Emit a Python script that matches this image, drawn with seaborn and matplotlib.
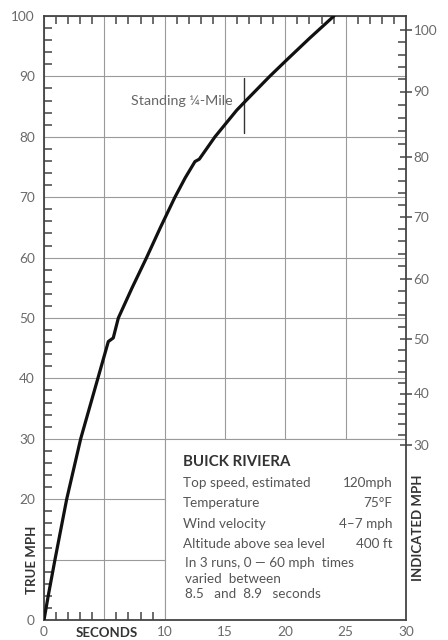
import numpy as np
import pandas as pd
import matplotlib
matplotlib.use("Agg")
import matplotlib.pyplot as plt
import seaborn as sns
from matplotlib.patches import Rectangle
from matplotlib.ticker import MultipleLocator, FixedLocator
import matplotlib.transforms as mtransforms

# ---- data ----
seconds = [0.0, 0.35, 0.91, 1.88, 3.04, 4.42, 5.33, 5.74, 6.16, 7.3, 8.5, 9.65, 10.85, 11.7, 12.51,
           12.87, 14.17, 15.97, 16.79, 18.7, 20.1, 22.0, 24.03]
true_mph = [0, 4, 10, 20, 30, 39.7, 46.1, 46.7, 50, 55, 60, 65, 70, 73.2, 75.9,
            76.3, 80, 84.4, 86.1, 90, 92.7, 96.3, 100]

indicated_labels = [30, 40, 50, 60, 70, 80, 90, 100]
indicated_at_true = [29.0, 37.5, 46.6, 56.5, 66.8, 76.7, 87.5, 97.7]

x_ticks = [0, 5, 10, 15, 20, 25, 30]
x_tick_labels = ["0", "", "10", "15", "20", "25", "30"]
y_ticks = [0, 10, 20, 30, 40, 50, 60, 70, 80, 90, 100]
y_tick_labels = ["0", "", "20", "30", "40", "50", "60", "70", "80", "90", "100"]

quarter_mile_time = 16.57
quarter_mile_span = [80.6, 89.7]

box_title = "BUICK RIVIERA"
box_items = ["Top speed, estimated", "Temperature", "Wind velocity", "Altitude above sea level"]
box_values = ["120mph", "75\u00b0F", "4\u20137 mph", "400 ft"]
box_note = ["In 3 runs, 0 \u2014 60 mph  times", "varied  between", "8.5   and  8.9   seconds"]

df = pd.DataFrame({"seconds": seconds, "true_mph": true_mph})

grid_c = "#9a9a9a"
spine_c = "#444444"
label_c = "#6a6a6a"

sns.set_theme(style="ticks")
plt.rcParams["font.family"] = ["Lato", "DejaVu Sans"]

W, H = 448, 640
fig = plt.figure(figsize=(W / 100, H / 100), dpi=100)
L, R, T, B = 44, 406, 16, 620
ax = fig.add_axes([L / W, 1 - B / H, (R - L) / W, (B - T) / H])

sns.lineplot(data=df, x="seconds", y="true_mph", ax=ax, color="#111111", lw=2.3,
             sort=False, zorder=4)

ax.set_xlim(0, 30)
ax.set_ylim(0, 100)
ax.set_xlabel("")
ax.set_ylabel("")

ax.set_xticks(x_ticks)
ax.set_xticklabels(x_tick_labels)
ax.set_yticks(y_ticks)
ax.set_yticklabels(y_tick_labels)
ax.xaxis.set_minor_locator(MultipleLocator(1))
ax.yaxis.set_minor_locator(MultipleLocator(2))
ax.grid(True, which="major", color=grid_c, lw=0.8)

for s in ["left", "top", "bottom"]:
    ax.spines[s].set_color(spine_c)
    ax.spines[s].set_linewidth(1.3)
ax.spines["right"].set_visible(False)

# white info box covering the lower right grid
ax.add_patch(Rectangle((10, 0), 20, 30, facecolor="white", edgecolor=grid_c,
                       lw=0.8, zorder=1.2))

# standing quarter mile marker
ax.plot([quarter_mile_time, quarter_mile_time], quarter_mile_span, color="#333333", lw=1.0, zorder=3)
ax.text(15.65, 85.9, "Standing \u00bc-Mile", ha="right", va="center", fontsize=10.3,
        color="#666666", zorder=5)

# right axis: indicated mph
ax2 = ax.twinx()
ax2.set_ylim(0, 100)
ax2.yaxis.set_major_locator(FixedLocator(indicated_at_true))
ax2.set_yticklabels([str(v) for v in indicated_labels])
minor_ind = np.arange(30, 101, 2)
ax2.yaxis.set_minor_locator(FixedLocator(np.interp(minor_ind, indicated_labels, indicated_at_true)))
for s in ["left", "top", "bottom"]:
    ax2.spines[s].set_visible(False)
ax2.spines["right"].set_visible(True)
ax2.spines["right"].set_color(spine_c)
ax2.spines["right"].set_linewidth(1.3)
ax2.grid(False)

# tick styling (after twinx so nothing resets it)
ax.tick_params(which="major", direction="in", length=0, labelsize=9.8,
               labelcolor=label_c, top=False, right=False, left=True, bottom=True)
ax.tick_params(axis="x", which="major", pad=4)
ax.tick_params(axis="y", which="major", pad=6.5)
ax.tick_params(which="minor", direction="in", length=5.5, width=1.1, color=spine_c,
               top=True, bottom=True, left=True, right=False)
ax2.tick_params(which="major", direction="inout", length=9, width=1.1, color=spine_c,
                labelsize=9.8, labelcolor=label_c, pad=1, left=False, right=True)
ax2.tick_params(which="minor", direction="in", length=5.5, width=1.1, color=spine_c,
                left=False, right=True)

# axis titles
ax.text(-0.033, 0.10, "TRUE MPH", transform=ax.transAxes, rotation=90, ha="center",
        va="center", fontsize=9.5, fontweight="bold", color="#333333")
ax.text(1.033, 0.152, "INDICATED MPH", transform=ax.transAxes, rotation=90, ha="center",
        va="center", fontsize=9.5, fontweight="bold", color="#333333")
trans = mtransforms.blended_transform_factory(ax.transData, ax.transAxes)
ax.text(5.2, -0.021, "SECONDS", transform=trans, ha="center", va="center",
        fontsize=9.5, fontweight="bold", color="#333333")

# info box text
tx, vx = 11.5, 28.9
ax.text(tx, 26.2, box_title, ha="left", va="center", fontsize=10.8, fontweight="bold",
        color="#333333", zorder=5)
ys = [22.7, 19.4, 15.9, 12.6]
for y, item, val in zip(ys, box_items, box_values):
    ax.text(tx, y, item, ha="left", va="center", fontsize=9.7, color="#555555", zorder=5)
    ax.text(vx, y, val, ha="right", va="center", fontsize=9.7, color="#555555", zorder=5)
for y, line in zip([9.4, 6.8, 4.3], box_note):
    ax.text(tx + 0.2, y, line, ha="left", va="center", fontsize=9.7, color="#555555",
            zorder=5)

fig.savefig("out.png", dpi=100)
